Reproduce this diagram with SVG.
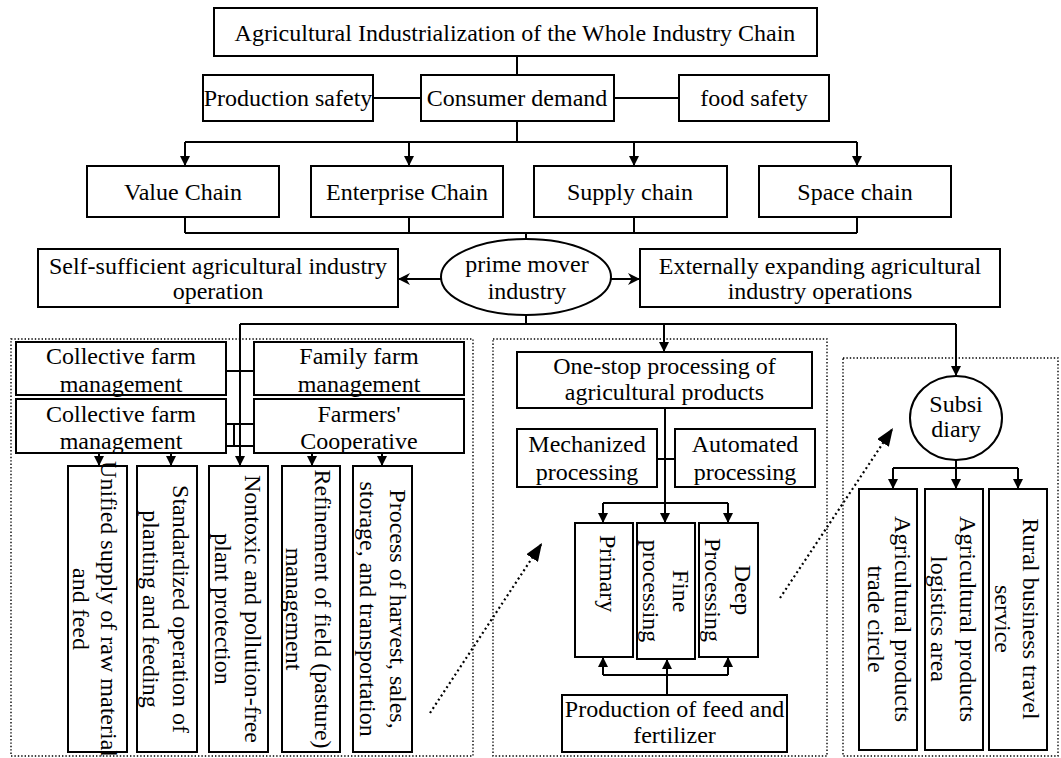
<svg xmlns="http://www.w3.org/2000/svg" width="1061" height="758" viewBox="0 0 1061 758">
<style>
.b{fill:#fff;stroke:#000;stroke-width:2}
.t{font-family:"Liberation Serif","Times New Roman",serif;font-size:24px;fill:#000;text-anchor:middle}
.c{fill:none;stroke:#000;stroke-width:2}
.a{fill:none;stroke:#000;stroke-width:2;marker-end:url(#ah)}
.d{fill:none;stroke:#000;stroke-width:1.4;stroke-dasharray:1.4 2}
.da{fill:none;stroke:#000;stroke-width:2.2;stroke-dasharray:2 3;marker-end:url(#dh)}
</style>
<defs>
<marker id="ah" viewBox="0 0 10 10" refX="10" refY="5" markerWidth="10" markerHeight="10" markerUnits="userSpaceOnUse" orient="auto"><path d="M0,0 L10,5 L0,10 z" fill="#000"/></marker>
<marker id="sh" viewBox="0 0 10 10" refX="10" refY="5" markerWidth="12" markerHeight="12" markerUnits="userSpaceOnUse" orient="auto"><path d="M0,0 L10,5 L0,10 L3,5 z" fill="#000"/></marker>
<marker id="dh" viewBox="0 0 10 10" refX="10" refY="5" markerWidth="18" markerHeight="14" markerUnits="userSpaceOnUse" orient="auto" preserveAspectRatio="none"><path d="M0,0 L10,5 L0,10 z" fill="#000"/></marker>
</defs>
<rect width="1061" height="758" fill="#fff"/>

<g id="regions">
<rect class="d" x="11" y="339" width="462" height="417"/>
<rect class="d" x="493" y="339" width="334" height="417"/>
<rect class="d" x="843" y="358" width="215" height="398"/>
</g>

<g id="connectors">
<path class="c" d="M517,56 V75 M373,98 H421 M614,98 H679 M517,121 V142 M185,142 H857"/>
<path class="a" d="M185,142 V166"/><path class="a" d="M409,142 V166"/><path class="a" d="M634,142 V166"/><path class="a" d="M857,142 V166"/>
<path class="c" d="M185,217 V233 M409,217 V233 M634,217 V233 M857,217 V233 M185,233 H857 M526,233 V239"/>
<path class="c" d="M441,279 H398" marker-end="url(#sh)"/>
<path class="c" d="M611,279 H640" marker-end="url(#sh)"/>
<path class="c" d="M526,315 V324 M240,324 H956"/>
<path class="a" d="M240,324 V466"/><path class="a" d="M664,324 V352"/><path class="a" d="M956,324 V376"/>
<path class="c" d="M226,371 H254 M226,424 H254 M226,446 H254 M234,424 V446"/>
<path class="a" d="M99,453 V466"/><path class="a" d="M171,453 V466"/><path class="a" d="M312,453 V466"/><path class="a" d="M382,453 V466"/>
<path class="c" d="M657,459 H675 M603,503 H728"/>
<path class="a" d="M665,408 V523"/><path class="a" d="M603,503 V523"/><path class="a" d="M728,503 V523"/>
<path class="a" d="M667,695 V659"/>
<path class="c" d="M603,675 H728"/>
<path class="a" d="M603,675 V657"/><path class="a" d="M728,675 V657"/>
<path class="c" d="M956,460 V468 M893,468 H1018"/>
<path class="a" d="M956,468 V489"/><path class="a" d="M893,468 V489"/><path class="a" d="M1018,468 V489"/>
<path class="da" d="M430,713 L542,543"/>
<path class="da" d="M780,598 L893,428"/>
</g>

<g id="n-title"><rect class="b" x="214" y="8" width="603" height="48"/><text class="t" x="515" y="41">Agricultural Industrialization of the Whole Industry Chain</text></g>
<g id="n-prodsafety"><rect class="b" x="203" y="75" width="170" height="46"/><text class="t" x="288" y="106">Production safety</text></g>
<g id="n-consumer"><rect class="b" x="421" y="75" width="193" height="46"/><text class="t" x="517" y="106">Consumer demand</text></g>
<g id="n-foodsafety"><rect class="b" x="679" y="75" width="150" height="46"/><text class="t" x="754" y="106">food safety</text></g>

<g id="n-value"><rect class="b" x="87" y="166" width="192" height="51"/><text class="t" x="183" y="200">Value Chain</text></g>
<g id="n-enterprise"><rect class="b" x="311" y="166" width="192" height="51"/><text class="t" x="407" y="200">Enterprise Chain</text></g>
<g id="n-supply"><rect class="b" x="534" y="166" width="193" height="51"/><text class="t" x="630" y="200">Supply chain</text></g>
<g id="n-space"><rect class="b" x="759" y="166" width="192" height="51"/><text class="t" x="855" y="200">Space chain</text></g>

<g id="n-prime"><ellipse class="b" cx="526" cy="277" rx="85" ry="38"/><text class="t" x="527" y="272">prime mover</text><text class="t" x="527" y="299">industry</text></g>
<g id="n-self"><rect class="b" x="38" y="249" width="360" height="58"/><text class="t" x="218" y="274">Self-sufficient agricultural industry</text><text class="t" x="218" y="299">operation</text></g>
<g id="n-ext"><rect class="b" x="640" y="249" width="360" height="58"/><text class="t" x="820" y="274">Externally expanding agricultural</text><text class="t" x="820" y="299">industry operations</text></g>

<g id="n-coll1"><rect class="b" x="16" y="342" width="210" height="53"/><text class="t" x="121" y="364">Collective farm</text><text class="t" x="121" y="392">management</text></g>
<g id="n-family"><rect class="b" x="254" y="342" width="210" height="53"/><text class="t" x="359" y="364">Family farm</text><text class="t" x="359" y="392">management</text></g>
<g id="n-coll2"><rect class="b" x="16" y="399" width="210" height="54"/><text class="t" x="121" y="422">Collective farm</text><text class="t" x="121" y="449">management</text></g>
<g id="n-coop"><rect class="b" x="254" y="399" width="210" height="54"/><text class="t" x="359" y="422">Farmers'</text><text class="t" x="359" y="449">Cooperative</text></g>

<g id="n-unified"><rect class="b" x="68" y="466" width="59" height="286"/><g transform="translate(97.5,609) rotate(90)"><text class="t" x="0" y="-3.5">Unified supply of raw material</text><text class="t" x="0" y="24.5">and feed</text></g></g>
<g id="n-standard"><rect class="b" x="137" y="466" width="60" height="286"/><g transform="translate(167,609) rotate(90)"><text class="t" x="0" y="-6">Standardized operation of</text><text class="t" x="0" y="24">planting and feeding</text></g></g>
<g id="n-nontoxic"><rect class="b" x="209" y="466" width="59" height="286"/><g transform="translate(238.5,609) rotate(90)"><text class="t" x="0" y="-6.5">Nontoxic and pollution-free</text><text class="t" x="0" y="23.5">plant protection</text></g></g>
<g id="n-refine"><rect class="b" x="282" y="466" width="58" height="286"/><g transform="translate(311,609) rotate(90)"><text class="t" x="0" y="-4">Refinement of field (pasture)</text><text class="t" x="0" y="25">management</text></g></g>
<g id="n-harvest"><rect class="b" x="353" y="466" width="59" height="286"/><g transform="translate(382.5,609) rotate(90)"><text class="t" x="0" y="-7.5">Process of harvest, sales,</text><text class="t" x="0" y="22.5">storage, and transportation</text></g></g>

<g id="n-onestop"><rect class="b" x="517" y="352" width="295" height="56"/><text class="t" x="664.5" y="374">One-stop processing of</text><text class="t" x="664.5" y="400">agricultural products</text></g>
<g id="n-mech"><rect class="b" x="517" y="429" width="140" height="58"/><text class="t" x="587" y="452">Mechanized</text><text class="t" x="587" y="480">processing</text></g>
<g id="n-auto"><rect class="b" x="675" y="429" width="140" height="58"/><text class="t" x="745" y="452">Automated</text><text class="t" x="745" y="480">processing</text></g>
<g id="n-primary"><rect class="b" x="575" y="523" width="58" height="134"/><g transform="translate(604,590) rotate(90)"><text class="t" x="-55" y="4" style="text-anchor:start">Primary</text></g></g>
<g id="n-fine"><rect class="b" x="637" y="523" width="58" height="136"/><g transform="translate(666,591) rotate(90)"><text class="t" x="0" y="-7">Fine</text><text class="t" x="0" y="23">processing</text></g></g>
<g id="n-deep"><rect class="b" x="699" y="523" width="59" height="134"/><g transform="translate(728.5,590) rotate(90)"><text class="t" x="0" y="-6.5">Deep</text><text class="t" x="0" y="23.5">Processing</text></g></g>
<g id="n-feed"><rect class="b" x="562" y="695" width="225" height="57"/><text class="t" x="674.5" y="717">Production of feed and</text><text class="t" x="674.5" y="743">fertilizer</text></g>

<g id="n-subsi"><ellipse class="b" cx="956" cy="418" rx="46" ry="42"/><text class="t" x="956" y="412">Subsi</text><text class="t" x="956" y="437">diary</text></g>
<g id="n-trade"><rect class="b" x="859" y="489" width="58" height="261"/><g transform="translate(888,619) rotate(90)"><text class="t" x="0" y="-7">Agricultural products</text><text class="t" x="0" y="20">trade circle</text></g></g>
<g id="n-logistics"><rect class="b" x="925" y="489" width="58" height="261"/><g transform="translate(954,619) rotate(90)"><text class="t" x="0" y="-6">Agricultural products</text><text class="t" x="0" y="23">logistics area</text></g></g>
<g id="n-rural"><rect class="b" x="989" y="489" width="58" height="261"/><g transform="translate(1018,619) rotate(90)"><text class="t" x="0" y="-5">Rural business travel</text><text class="t" x="0" y="23">service</text></g></g>
</svg>
